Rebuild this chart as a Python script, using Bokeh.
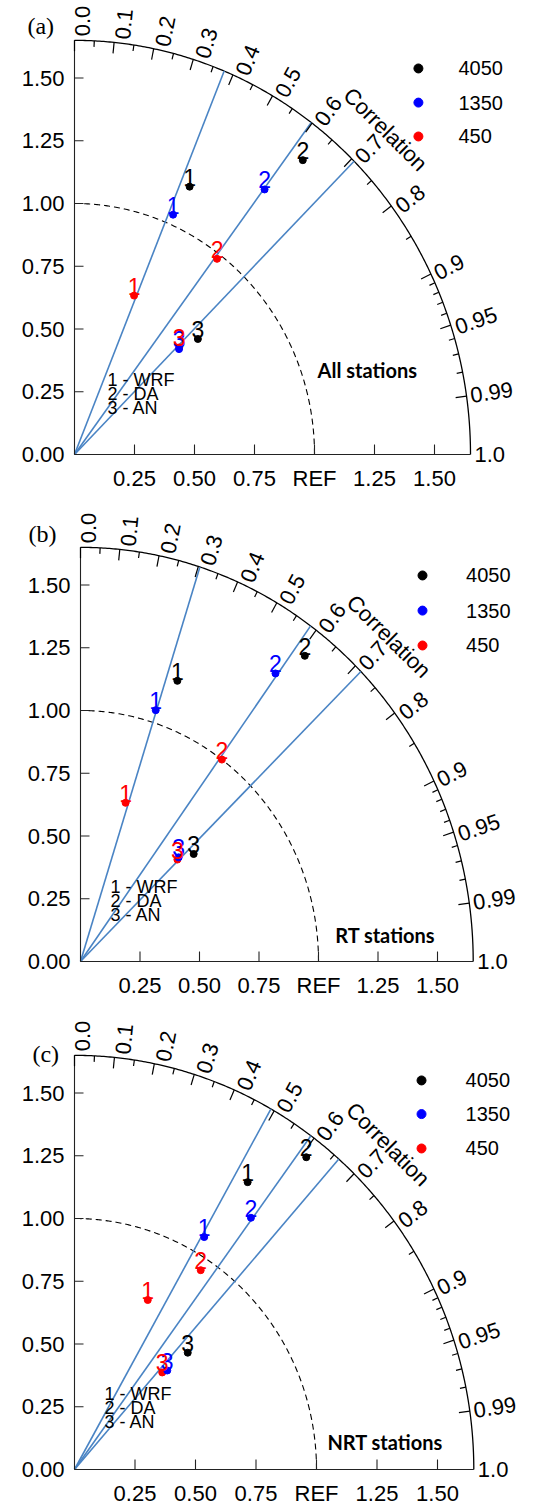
import numpy as np
from bokeh.plotting import figure
from bokeh.models import Range1d
from bokeh.layouts import column
from bokeh.embed import file_html
from bokeh.resources import INLINE
from bokeh.core.properties import value

# ---------------- data ----------------
panel_tags = ["(a)", "(b)", "(c)"]
panel_names = ["All stations", "RT stations", "NRT stations"]
series_names = ["4050", "1350", "450"]
case_ids = ["1", "2", "3"]
case_legend = ["1 - WRF", "2 - DA", "3 - AN"]

# normalised standard deviation; rows = series (4050, 1350, 450), cols = cases (WRF, DA, AN)
std_a = [[1.17, 1.51, 0.69], [1.04, 1.32, 0.605], [0.68, 0.98, 0.61]]
corr_a = [[0.41, 0.63, 0.745], [0.395, 0.60, 0.72], [0.365, 0.606, 0.715]]
std_b = [[1.19, 1.54, 0.64], [1.05, 1.41, 0.585], [0.66, 1.00, 0.575]]
corr_b = [[0.342, 0.612, 0.743], [0.301, 0.581, 0.705], [0.287, 0.594, 0.708]]
std_c = [[1.35, 1.57, 0.66], [1.07, 1.24, 0.55], [0.74, 0.95, 0.53]]
corr_c = [[0.53, 0.61, 0.709], [0.501, 0.588, 0.697], [0.409, 0.549, 0.684]]

# correlations of the three blue rays in each panel
rays_a = [0.378, 0.598, 0.706]
rays_b = [0.304, 0.586, 0.714]
rays_c = [0.492, 0.592, 0.662]

corr_major = [0.0, 0.1, 0.2, 0.3, 0.4, 0.5, 0.6, 0.7, 0.8, 0.9, 0.95, 0.99, 1.0]
corr_labels = ["0.0", "0.1", "0.2", "0.3", "0.4", "0.5", "0.6", "0.7", "0.8",
               "0.9", "0.95", "0.99", "1.0"]
corr_minor = [0.05, 0.15, 0.25, 0.35, 0.45, 0.55, 0.65, 0.75, 0.85,
              0.91, 0.92, 0.93, 0.94, 0.96, 0.97, 0.98]
std_ticks = [0.0, 0.25, 0.5, 0.75, 1.0, 1.25, 1.5]
y_labels = ["0.00", "0.25", "0.50", "0.75", "1.00", "1.25", "1.50"]
x_labels = ["", "0.25", "0.50", "0.75", "REF", "1.25", "1.50"]
std_max = 1.65
std_ref = 1.0

# ---------------- style ----------------
colors = ["black", "blue", "red"]
SANS = value("Liberation Sans")
SERIF = value("Liberation Serif")
BOLD = value("Lato")
RAY = "#4a84c4"
W = 544
OY = 454.0
SY = 251.0
TICK_FS = "22px"
label_shift = [8, 8, 8, 8, 8, 7, 6, 6, 6, 2, 4, 0, 0]

geo = [
    dict(ox=74, sx=240.0, h=507, tag=(-0.196, 1.709), name=(1.013, 0.335),
         leg_x=1.433, leg_tx=1.60, leg_y=[1.538, 1.402, 1.267], case=(0.1375, 0.295)),
    dict(ox=80, sx=238.0, h=508, tag=(-0.218, 1.705), name=(1.07, 0.104),
         leg_x=1.437, leg_tx=1.62, leg_y=[1.538, 1.398, 1.259], case=(0.126, 0.296)),
    dict(ox=74, sx=242.0, h=490, tag=(-0.174, 1.657), name=(1.045, 0.108),
         leg_x=1.434, leg_tx=1.616, leg_y=[1.55, 1.416, 1.279], case=(0.124, 0.299)),
]


def make_panel(k, std, corr, rays):
    g = geo[k]
    sx, ox, h = g["sx"], g["ox"], g["h"]
    sy = SY
    p = figure(width=W, height=h,
               x_range=Range1d(-ox / sx, (W - ox) / sx),
               y_range=Range1d(-(h - OY) / sy, OY / sy),
               output_backend="svg", toolbar_location=None, title=None,
               x_axis_location=None, y_axis_location=None, min_border=0,
               outline_line_color=None, background_fill_color="white",
               border_fill_color="white")
    p.xgrid.visible = False
    p.ygrid.visible = False

    th = np.linspace(0, np.pi / 2, 300)
    # outer arc and reference arc
    p.line(std_max * np.cos(th), std_max * np.sin(th), line_color="black", line_width=1.3)
    p.line(std_ref * np.cos(th), std_ref * np.sin(th), line_color="black",
           line_width=1.1, line_dash="6 4")

    # rays
    ra = np.arccos(np.array(rays))
    p.segment(x0=[0] * 3, y0=[0] * 3, x1=std_max * np.cos(ra), y1=std_max * np.sin(ra),
              line_color=RAY, line_width=1.6)

    # std axes
    p.line([0, 0], [0, std_max], line_color="#222222", line_width=1.1)
    p.line([0, std_max], [0, 0], line_color="#222222", line_width=1.1)
    n = len(std_ticks)
    tl = 9.0
    p.segment(x0=[0] * n, y0=std_ticks, x1=[tl / sx] * n, y1=std_ticks,
              line_color="#222222", line_width=1.1)
    p.segment(x0=std_ticks[1:], y0=[0] * (n - 1), x1=std_ticks[1:], y1=[10 / sy] * (n - 1),
              line_color="#222222", line_width=1.1)
    p.text(x=[-10 / sx] * n, y=std_ticks, text=y_labels, text_align="right",
           text_baseline="middle", text_font=SANS, text_font_size=TICK_FS, text_color="black")
    p.text(x=std_ticks[1:], y=[-24 / sy] * (n - 1), text=x_labels[1:], text_align="center",
           text_baseline="middle", text_font=SANS, text_font_size=TICK_FS, text_color="black")

    # correlation ticks and labels
    def unit(c):
        t = np.arccos(np.array(c))
        ux, uy = sx * np.cos(t), sy * np.sin(t)
        nn = np.hypot(ux, uy)
        return t, ux / nn, uy / nn

    for vals, L in ((corr_major[:-1], 11.0), (corr_minor, 6.0)):
        t, ux, uy = unit(vals)
        x0 = std_max * np.cos(t)
        y0 = std_max * np.sin(t)
        p.segment(x0=x0, y0=y0, x1=x0 - L * ux / sx, y1=y0 - L * uy / sy,
                  line_color="black", line_width=1.2)

    t, ux, uy = unit(corr_major)
    gap = 4.0
    sh = np.array(label_shift, dtype=float)
    lx = std_max * np.cos(t) + (gap * ux + sh * uy) / sx
    ly = std_max * np.sin(t) + (gap * uy - sh * ux) / sy
    ang = np.arctan2(uy, ux)
    p.text(x=lx, y=ly, text=corr_labels, angle=ang, text_align="left",
           text_baseline="middle", text_font=SANS, text_font_size=TICK_FS, text_color="black")

    tc = np.pi / 4
    phi = np.arctan2(sy * np.sin(tc), sx * np.cos(tc))
    p.text(x=[1.832 * np.cos(tc)], y=[1.832 * np.sin(tc)], text=["Correlation"],
           angle=[phi - np.pi / 2 - 0.02], text_align="center", text_baseline="middle",
           text_font=SANS, text_font_size=TICK_FS, text_color="black")

    # data points: markers (black, red, blue) then labels (black, blue, red)
    xs, ys = [], []
    for i in range(3):
        s = np.array(std[i])
        c = np.array(corr[i])
        xs.append(s * c)
        ys.append(s * np.sqrt(1 - c ** 2))
    for i in (0, 2, 1):
        p.scatter(xs[i], ys[i], size=7, marker="circle", fill_color=colors[i],
                  line_color=colors[i])
    for i in (0, 1, 2):
        p.text(x=xs[i], y=ys[i] + 1 / sy, text=case_ids, text_align="center",
               text_baseline="bottom", text_font=SANS, text_font_size="23px",
               text_color=colors[i])

    # series legend
    p.scatter([g["leg_x"]] * 3, g["leg_y"], size=9, marker="circle",
              fill_color=colors, line_color=colors)
    p.text(x=[g["leg_tx"]] * 3, y=g["leg_y"], text=series_names, text_align="left",
           text_baseline="middle", text_font=SANS, text_font_size="20px", text_color="black")

    # case legend
    cx, cy = g["case"]
    p.text(x=[cx] * 3, y=[cy, cy - 14 / sy, cy - 28 / sy], text=case_legend,
           text_align="left", text_baseline="middle", text_font=SANS,
           text_font_size="18px", text_color="black")

    # panel name and tag
    p.text(x=[g["name"][0]], y=[g["name"][1]], text=[panel_names[k]], text_align="left",
           text_baseline="middle", text_font=BOLD, text_font_style="bold",
           text_font_size="20px", text_color="black")
    p.text(x=[g["tag"][0]], y=[g["tag"][1]], text=[panel_tags[k]], text_align="left",
           text_baseline="middle", text_font=SERIF, text_font_size="24px", text_color="black")
    return p


p1 = make_panel(0, std_a, corr_a, rays_a)
p2 = make_panel(1, std_b, corr_b, rays_b)
p3 = make_panel(2, std_c, corr_c, rays_c)
layout = column(p1, p2, p3, spacing=0)

open("out.html", "w").write(file_html(layout, INLINE))
